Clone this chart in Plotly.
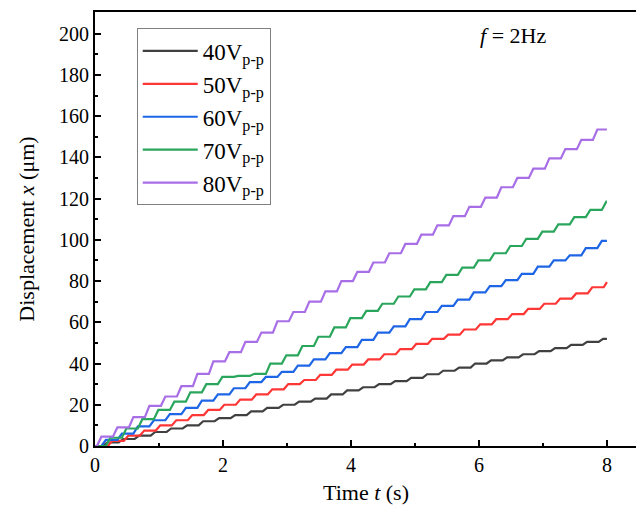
import plotly.graph_objects as go

# Step levels (µm); a step every 0.25 s (2 Hz drive, two steps per cycle)
labels = ["40V<sub>p-p</sub>", "50V<sub>p-p</sub>", "60V<sub>p-p</sub>", "70V<sub>p-p</sub>", "80V<sub>p-p</sub>"]
colors = ["#404040", "#ff3636", "#1e66e6", "#2aa65c", "#a86ee6"]
step_period = 0.25
t_end = 8.0
phases = [0.12, 0.20, 0.10, 0.17, 0.03]

levels_40 = [0, 1.7, 3.4, 5, 6.8, 8.5, 10, 12, 13.5, 15, 16.8, 18.5, 20, 21.5, 23, 25, 27,
             28.5, 30, 31.5, 33, 34.8, 36.5, 38, 40, 41.5, 43, 44.5, 46, 47.5, 49, 50.5, 52]
levels_50 = [0, 2.5, 5, 7.5, 10, 12.5, 15, 17.5, 20, 22.5, 25, 27.5, 30, 32, 34.5, 37, 39.5,
             42, 44.5, 47, 49.5, 52, 54, 56.5, 59, 61.5, 64, 66.5, 69, 71.5, 74, 77, 79.5]
levels_60 = [0, 3, 6, 9.5, 12.5, 15.5, 18.5, 22, 25, 28, 31, 33.5, 36, 39, 42, 45, 48,
             51.5, 55, 58, 61.5, 65, 68, 71, 74.5, 77.5, 80.5, 83.5, 87, 90, 92.5, 96, 99.5]
levels_70 = [0, 4, 8.5, 13, 17.5, 21.5, 26, 30, 33.5, 34, 35, 40, 44, 48.5, 53, 57.5, 62,
             65.5, 69, 72.5, 76, 79.5, 83, 86.5, 90, 93.5, 97, 100.5, 104, 107.5, 111, 114.5, 118.5]
levels_80 = [0, 4.5, 9, 14, 19.5, 24, 29, 35, 41, 45.5, 50.5, 55, 60.5, 65, 70, 75, 80,
             84.5, 89, 93.5, 98, 102.5, 107, 111.5, 116, 120.5, 125.5, 130, 134.5, 139.5, 144, 148.5, 153.5]
all_levels = [levels_40, levels_50, levels_60, levels_70, levels_80]

rise = 0.07

fig = go.Figure()
for name, col, ph, lv in zip(labels, colors, phases, all_levels):
    xs, ys = [0.0], [lv[0]]
    for k in range(len(lv) - 1):
        s = ph + k * step_period
        if s > t_end:
            break
        xs += [s, min(s + rise, t_end)]
        ys += [lv[k], lv[k + 1]]
    xs.append(t_end)
    ys.append(lv[-1])
    fig.add_trace(go.Scatter(x=xs, y=ys, mode="lines", name=name,
                             line=dict(color=col, width=2.2)))

serif = "Liberation Serif, Times New Roman, serif"
fig.update_layout(
    width=636, height=508,
    margin=dict(l=87, r=7, t=2, b=70),
    paper_bgcolor="white", plot_bgcolor="white",
    font=dict(family=serif, size=20, color="black"),
    showlegend=True,
    legend=dict(x=0.077, y=0.962, xanchor="left", yanchor="top",
                bordercolor="#808080", borderwidth=1, bgcolor="white",
                font=dict(family=serif, size=23), itemwidth=55,
                tracegroupgap=0),
    annotations=[dict(text="<i>f</i> = 2Hz", x=0.772, y=0.947, xref="paper", yref="paper",
                      xanchor="center", yanchor="middle",
                      showarrow=False, font=dict(family=serif, size=22))],
)
fig.update_xaxes(range=[0, 8.47], tickvals=[0, 2, 4, 6, 8], ticks="inside", ticklen=6,
                 tickwidth=2, tickcolor="black",
                 minor=dict(tickvals=[1, 3, 5, 7], ticks="inside", ticklen=3, tickwidth=2, tickcolor="black"),
                 showline=True, linewidth=2, linecolor="black", mirror=True,
                 showgrid=False, zeroline=False,
                 title=dict(text="Time <i>t</i> (s)", font=dict(size=22), standoff=10),
                 tickfont=dict(size=20))
fig.update_yaxes(range=[0, 210.5], tickvals=list(range(0, 201, 20)), ticks="inside", ticklen=6,
                 tickwidth=2, tickcolor="black",
                 minor=dict(tickvals=list(range(10, 201, 20)), ticks="inside", ticklen=3, tickwidth=2, tickcolor="black"),
                 showline=True, linewidth=2, linecolor="black", mirror=True,
                 showgrid=False, zeroline=False,
                 title=dict(text="Displacement <i>x</i> (μm)", font=dict(size=22), standoff=18),
                 tickfont=dict(size=20))

fig.write_html("out.html")
